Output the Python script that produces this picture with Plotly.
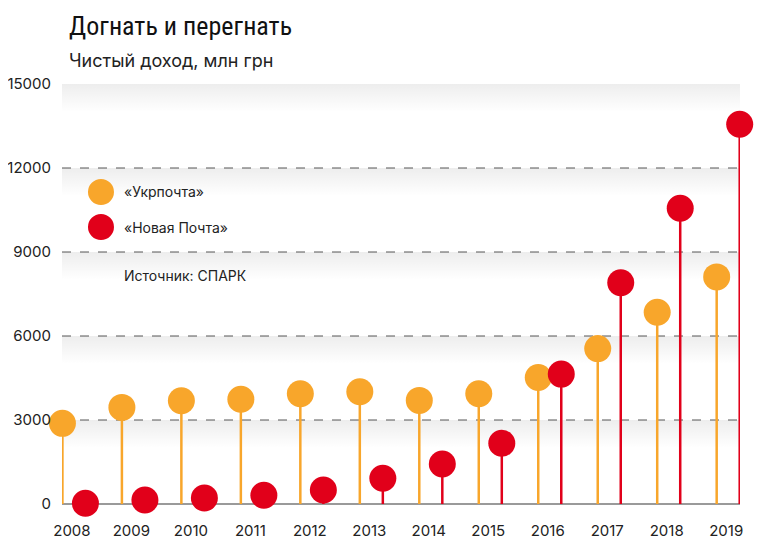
import plotly.graph_objects as go

# Net income, mln UAH
years = [2008, 2009, 2010, 2011, 2012, 2013, 2014, 2015, 2016, 2017, 2018, 2019]
ukrposhta = [2880, 3450, 3690, 3740, 3940, 4010, 3700, 3940, 4520, 5550, 6850, 8110]
nova_poshta = [25, 145, 215, 310, 500, 920, 1430, 2170, 4640, 7900, 10560, 13560]
y_ticks = [0, 3000, 6000, 9000, 12000, 15000]

ORANGE = "#F8A62B"
RED = "#E1001A"
FONT = "Inter, Noto Sans, sans-serif"
TITLE_FONT = ("Roboto Condensed, Open Sans Condensed, Liberation Sans Narrow, "
              "Arial Narrow, DejaVu Sans Condensed, Inter, sans-serif")
X_RANGE = [2007.833, 2019.232]

fig = go.Figure()

# soft grey shading under each dashed gridline
for v in y_ticks[1:]:
    fig.add_trace(go.Scatter(
        x=[X_RANGE[0], X_RANGE[1], X_RANGE[1], X_RANGE[0], X_RANGE[0]],
        y=[v, v, v - 1000, v - 1000, v],
        mode="lines", line=dict(width=0),
        fill="toself",
        fillgradient=dict(type="vertical",
                          colorscale=[[0, "rgba(0,0,0,0)"], [1, "rgba(0,0,0,0.07)"]]),
        hoverinfo="skip", showlegend=False,
    ))

def lollipop(xs, ys, color, name):
    return go.Scatter(
        x=xs, y=ys, mode="markers", name=name,
        marker=dict(size=27, color=color),
        error_y=dict(type="data", symmetric=False, array=[0] * len(ys),
                     arrayminus=ys, width=0, thickness=2.5, color=color),
        cliponaxis=False, showlegend=False,
    )

fig.add_trace(lollipop([y - 0.16 for y in years], ukrposhta, ORANGE, "«Укрпочта»"))
fig.add_trace(lollipop([y + 0.227 for y in years], nova_poshta, RED, "«Новая Почта»"))

# legend drawn by hand
legend = [(0.7429, ORANGE, "«Укрпочта»"), (0.6595, RED, "«Новая Почта»")]
shapes = []
annotations = []
for ypos, color, label in legend:
    shapes.append(dict(type="circle", xref="paper", yref="paper",
                       xsizemode="pixel", ysizemode="pixel",
                       xanchor=0.0575, yanchor=ypos,
                       x0=-13, x1=13, y0=-13, y1=13,
                       fillcolor=color, line=dict(width=0)))
    annotations.append(dict(text=label, xref="paper", yref="paper",
                            x=0.088, y=ypos, xanchor="left", yanchor="middle",
                            showarrow=False, font=dict(size=14, color="#222", family=FONT)))

annotations += [
    dict(text="Источник: СПАРК", xref="paper", yref="paper", x=0.089, y=0.5452,
         xanchor="left", yanchor="middle", showarrow=False,
         font=dict(size=14, color="#222", family=FONT)),
    dict(text="Догнать и перегнать", xref="paper", yref="paper", x=0.008, y=1.178,
         xanchor="left", yanchor="top", showarrow=False,
         font=dict(size=26, color="#111", family=TITLE_FONT)),
    dict(text="Чистый доход, млн грн", xref="paper", yref="paper", x=0.008, y=1.0548,
         xanchor="left", yanchor="middle", showarrow=False,
         font=dict(size=18, color="#222", family=FONT)),
]

# the page body adds an 8px offset, so the figure is 8px smaller each way
fig.update_layout(
    width=756, height=537,
    margin=dict(l=54, r=24, t=76, b=41),
    plot_bgcolor="white", paper_bgcolor="white",
    font=dict(family=FONT, size=15, color="#222"),
    shapes=shapes, annotations=annotations,
    xaxis=dict(range=X_RANGE, tickvals=years, ticktext=[str(y) for y in years],
               showgrid=False, zeroline=False, showline=False, ticks="",
               ticklabelstandoff=16, fixedrange=True, automargin=False),
    yaxis=dict(range=[0, 15000], tickvals=y_ticks, ticktext=[str(v) for v in y_ticks],
               showgrid=True, gridcolor="#ABABAB", gridwidth=1.5, griddash="dash",
               zeroline=True, zerolinecolor="#9A9A9A", zerolinewidth=1.5,
               showline=False, ticks="", ticklabelstandoff=10, fixedrange=True,
               automargin=False),
)

fig.write_html("out.html")
